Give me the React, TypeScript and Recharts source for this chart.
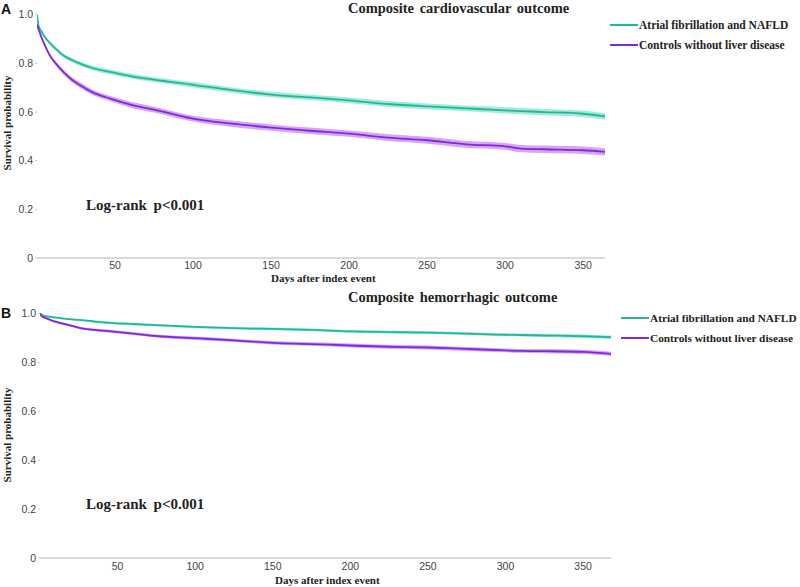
import { Area, ComposedChart, Line, XAxis, YAxis } from "recharts";

// Kaplan–Meier estimates (days after index event)
const DAYS_A = [0, 1, 3, 5, 8, 12, 17, 22, 28, 35, 47, 60, 75, 100, 125, 150, 175, 200, 225, 250, 275, 300, 310, 325, 350, 364];
const DAYS_B = [0, 1, 3, 5, 8, 12, 17, 22, 28, 35, 47, 60, 75, 100, 125, 150, 175, 200, 225, 250, 275, 300, 310, 325, 350, 368];

const NAFLD_A = [1.0, 0.955, 0.93, 0.908, 0.885, 0.86, 0.832, 0.815, 0.798, 0.782, 0.765, 0.748, 0.733, 0.712, 0.69, 0.672, 0.66, 0.648, 0.633, 0.623, 0.615, 0.607, 0.604, 0.6, 0.593, 0.582];
const CONTROL_A = [0.96, 0.94, 0.905, 0.875, 0.835, 0.8, 0.764, 0.735, 0.709, 0.683, 0.655, 0.63, 0.61, 0.573, 0.552, 0.536, 0.523, 0.511, 0.495, 0.484, 0.467, 0.459, 0.45, 0.447, 0.443, 0.436];
const NAFLD_A_CI = [0.003, 0.005, 0.006, 0.007, 0.007, 0.008, 0.008, 0.009, 0.009, 0.009, 0.01, 0.01, 0.01, 0.011, 0.011, 0.011, 0.011, 0.012, 0.012, 0.012, 0.012, 0.013, 0.013, 0.013, 0.013, 0.013];
const CONTROL_A_CI = [0.003, 0.005, 0.006, 0.007, 0.008, 0.009, 0.01, 0.01, 0.011, 0.011, 0.011, 0.012, 0.012, 0.012, 0.013, 0.013, 0.013, 0.013, 0.014, 0.014, 0.014, 0.014, 0.015, 0.015, 0.015, 0.015];

const NAFLD_B = [1.0, 0.995, 0.99, 0.988, 0.985, 0.982, 0.978, 0.975, 0.972, 0.967, 0.961, 0.957, 0.952, 0.945, 0.94, 0.937, 0.933, 0.927, 0.924, 0.922, 0.918, 0.913, 0.912, 0.91, 0.907, 0.903];
const CONTROL_B = [1.0, 0.99, 0.983, 0.978, 0.97, 0.963, 0.955, 0.947, 0.938, 0.933, 0.926, 0.918, 0.908, 0.899, 0.89, 0.88, 0.875, 0.869, 0.864, 0.861, 0.855, 0.849, 0.847, 0.846, 0.843, 0.835];
const NAFLD_B_CI = [0.002, 0.003, 0.003, 0.003, 0.004, 0.004, 0.004, 0.004, 0.004, 0.005, 0.005, 0.005, 0.005, 0.005, 0.005, 0.006, 0.006, 0.006, 0.006, 0.006, 0.006, 0.006, 0.006, 0.007, 0.007, 0.007];
const CONTROL_B_CI = [0.002, 0.003, 0.004, 0.004, 0.004, 0.005, 0.005, 0.005, 0.005, 0.006, 0.006, 0.006, 0.006, 0.007, 0.007, 0.007, 0.007, 0.008, 0.008, 0.008, 0.008, 0.008, 0.008, 0.009, 0.009, 0.009];

const X_TICKS = [50, 100, 150, 200, 250, 300, 350];
const Y_TICKS = [0, 0.2, 0.4, 0.6, 0.8, 1.0];

const SERIES_NAMES = ["Atrial fibrillation and NAFLD", "Controls without liver disease"];

const GREEN = "#1fb99a";
const GREEN_BAND = "#a3ead9";
const PURPLE = "#7b2be0";
const PURPLE_BAND = "#d9a4f2";

const SERIF = "'Liberation Serif', 'Times New Roman', serif";
const SANS = "'Liberation Sans', Arial, sans-serif";

function buildRows(days: number[], nafld: number[], nafldCi: number[], ctrl: number[], ctrlCi: number[]) {
  return days.map((day, i) => ({
    day,
    nafld: nafld[i],
    nafldBand: [nafld[i] - nafldCi[i], nafld[i] + nafldCi[i]],
    ctrl: ctrl[i],
    ctrlBand: [ctrl[i] - ctrlCi[i], ctrl[i] + ctrlCi[i]],
  }));
}

const rowsA = buildRows(DAYS_A, NAFLD_A, NAFLD_A_CI, CONTROL_A, CONTROL_A_CI);
const rowsB = buildRows(DAYS_B, NAFLD_B, NAFLD_B_CI, CONTROL_B, CONTROL_B_CI);

const tickStyle = { fontFamily: SANS, fontSize: 10.5, fill: "#444" };

function SurvivalPanel({
  rows,
  height,
  top,
  plotLeft,
  plotRight,
  bottomSpace,
  xMax,
  xTickMargin,
}: {
  rows: ReturnType<typeof buildRows>;
  height: number;
  top: number;
  plotLeft: number;
  plotRight: number;
  bottomSpace: number;
  xMax: number;
  xTickMargin: number;
}) {
  return (
    <ComposedChart
      width={800}
      height={height}
      data={rows}
      margin={{ top, right: 800 - plotRight, left: 0, bottom: 0 }}
    >
      <XAxis
        dataKey="day"
        type="number"
        domain={[0, xMax]}
        ticks={X_TICKS}
        height={bottomSpace}
        tickSize={0}
        tickMargin={xTickMargin}
        axisLine={{ stroke: "#b5b5b5" }}
        tick={tickStyle}
        allowDataOverflow
      />
      <YAxis
        type="number"
        domain={[0, 1]}
        ticks={Y_TICKS}
        width={plotLeft}
        axisLine={false}
        tickSize={2}
        tickMargin={2}
        tickLine={{ stroke: "#c8c8c8" }}
        tick={tickStyle}
        tickFormatter={(v: number) => (v === 0 ? "0" : v.toFixed(1))}
      />
      <Area dataKey="nafldBand" type="monotone" stroke="none" fill={GREEN_BAND} fillOpacity={1} isAnimationActive={false} />
      <Area dataKey="ctrlBand" type="monotone" stroke="none" fill={PURPLE_BAND} fillOpacity={1} isAnimationActive={false} />
      <Line dataKey="nafld" type="monotone" stroke={GREEN} strokeWidth={1.8} dot={false} isAnimationActive={false} />
      <Line dataKey="ctrl" type="monotone" stroke={PURPLE} strokeWidth={1.8} dot={false} isAnimationActive={false} />
    </ComposedChart>
  );
}

function Legend({ left, top, fontSize }: { left: number; top: number; fontSize: number }) {
  const colors = [GREEN, PURPLE];
  return (
    <div style={{ position: "absolute", left, top }}>
      {SERIES_NAMES.map((name, i) => (
        <div key={name} style={{ display: "flex", alignItems: "center", height: 20 }}>
          <span style={{ width: 28, height: 2.5, background: colors[i], marginRight: 1 }} />
          <span style={{ fontFamily: SERIF, fontWeight: "bold", fontSize, color: "#222", whiteSpace: "nowrap" }}>{name}</span>
        </div>
      ))}
    </div>
  );
}

const abs = (left: number, top: number, extra: React.CSSProperties = {}): React.CSSProperties => ({
  position: "absolute",
  left,
  top,
  whiteSpace: "nowrap",
  color: "#222",
  ...extra,
});

export default function App() {
  const titleStyle = { fontFamily: SERIF, fontWeight: "bold" as const, fontSize: 14.5, lineHeight: "16px", wordSpacing: 2 };
  const axisLabel = { fontFamily: SERIF, fontWeight: "bold" as const, fontSize: 11, lineHeight: "12px" };
  const logRank = { fontFamily: SERIF, fontWeight: "bold" as const, fontSize: 15, lineHeight: "16px", wordSpacing: 3 };
  const panelLetter = { fontFamily: SANS, fontWeight: "bold" as const, fontSize: 14, lineHeight: "14px", color: "#111" };

  return (
    <div style={{ position: "absolute", left: 0, top: 0, width: 800, height: 587, background: "#fff", overflow: "hidden" }}>
      {/* Panel A */}
      <div style={{ position: "absolute", left: 0, top: 0 }}>
        <SurvivalPanel rows={rowsA} height={290} top={14} plotLeft={37} plotRight={605} bottomSpace={32} xMax={364} xTickMargin={4} />
      </div>
      <div style={abs(1, 2, panelLetter)}>A</div>
      <div style={abs(348, 0, titleStyle)}>Composite cardiovascular outcome</div>
      <Legend left={610} top={15} fontSize={11.5} />
      <div style={abs(86, 197, logRank)}>Log-rank p&lt;0.001</div>
      <div style={abs(271, 272, axisLabel)}>Days after index event</div>
      <div style={abs(-43, 117, { ...axisLabel, transform: "rotate(-90deg)", width: 100, textAlign: "center" })}>Survival probability</div>

      {/* Panel B */}
      <div style={{ position: "absolute", left: 0, top: 290 }}>
        <SurvivalPanel rows={rowsB} height={297} top={23} plotLeft={40} plotRight={611} bottomSpace={29} xMax={368} xTickMargin={5} />
      </div>
      <div style={abs(1, 306, panelLetter)}>B</div>
      <div style={abs(348, 289, titleStyle)}>Composite hemorrhagic outcome</div>
      <Legend left={621} top={308} fontSize={11.3} />
      <div style={abs(86, 496, logRank)}>Log-rank p&lt;0.001</div>
      <div style={abs(275, 574, axisLabel)}>Days after index event</div>
      <div style={abs(-43, 429, { ...axisLabel, transform: "rotate(-90deg)", width: 100, textAlign: "center" })}>Survival probability</div>
    </div>
  );
}
